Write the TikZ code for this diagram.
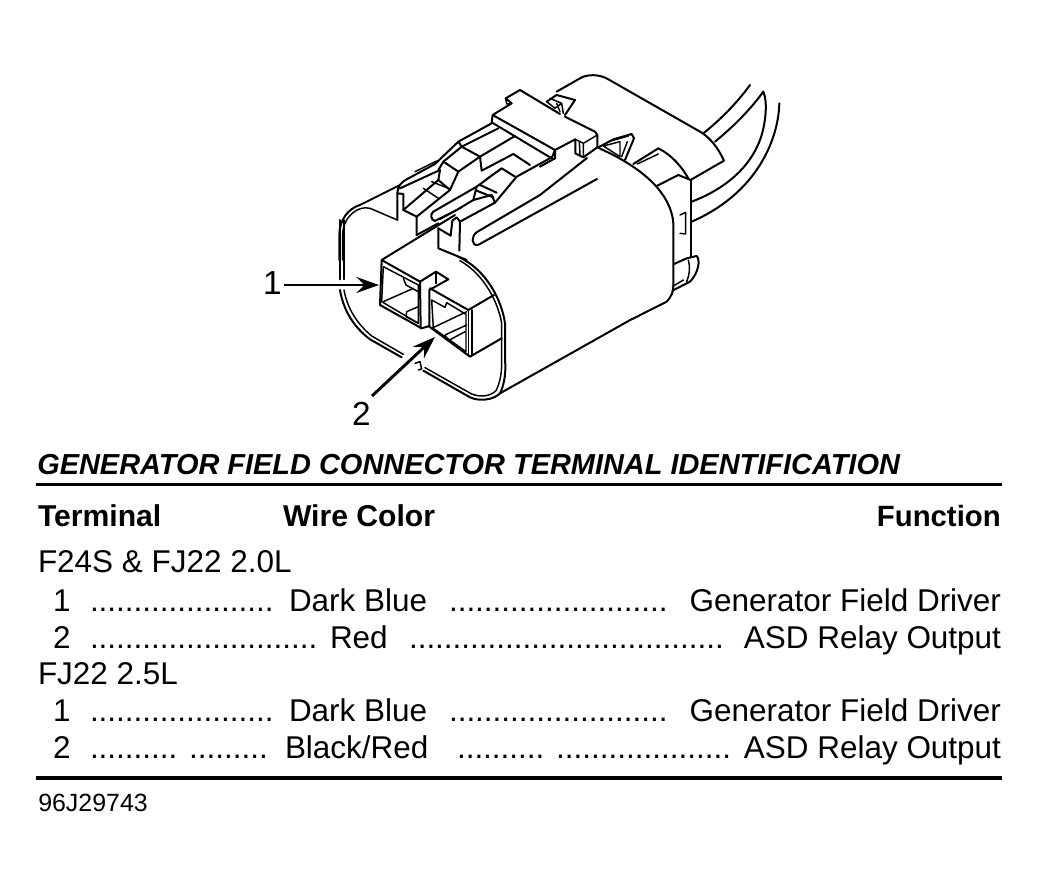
\documentclass[tikz,border=0pt]{standalone}
\usepackage{fontspec}
\setmainfont{Liberation Sans}
\usetikzlibrary{arrows.meta}
\tikzset{
 ln/.style={line width=1.5pt,line join=round,line cap=round},
 tn/.style={line width=1.1pt,line join=round,line cap=round},
 lab/.style={anchor=base west,inner sep=0pt,outer sep=0pt,font=\fontsize{23.6}{25}\selectfont},
 labr/.style={anchor=base east,inner sep=0pt,outer sep=0pt,font=\fontsize{23.6}{25}\selectfont},
 bd/.style={anchor=base west,inner sep=0pt,outer sep=0pt,font=\fontsize{22.6}{25}\selectfont\bfseries},
 big/.style={anchor=base west,inner sep=0pt,outer sep=0pt,font=\fontsize{25}{27}\selectfont},
 arr/.style={line width=2.2pt,-{Stealth[length=17pt,width=12pt,inset=6pt]}},
 zone/.style={x=0.25pt,y=-0.25pt}
}
\begin{document}
\begin{tikzpicture}[x=0.75pt,y=-0.75pt]
\useasboundingbox (0,0) rectangle (1039,887);
% ---- upper-left region (crop 1 coordinates)
\begin{scope}[zone,shift={(240pt,-45pt)}]
% body corner
\draw[ln] (240,375) -- (120,435) .. controls (85,445) and (58,480) .. (58,525) -- (58,600);
\draw[tn] (232,480) -- (150,445) .. controls (115,435) and (68,470) .. (68,525) -- (68,600);
% left latch
\draw[ln] (232,480) -- (232,400) .. controls (232,380) and (245,365) .. (260,358) -- (345,312) -- (415,245) -- (515,190);
\draw[tn] (285,335) -- (350,303);
\draw[ln] (240,385) -- (360,330) -- (355,360) -- (390,390) -- (415,335) -- (370,305) -- (355,330);
\draw[ln] (232,400) -- (250,402) -- (250,450) -- (290,470) -- (290,525);
\draw[ln] (250,450) -- (355,360);
\draw[ln] (290,470) -- (390,390);
\draw[tn] (310,385) -- (355,415) (335,365) -- (385,385);
% upper cross bars
\draw[ln] (370,305) -- (425,260) -- (480,290) -- (415,335);
\draw[ln] (415,245) -- (425,260) -- (535,205);
\draw[ln] (480,290) -- (585,228);
\draw[ln] (480,290) -- (485,332) -- (580,282) -- (630,315);
% lower latch
\draw[ln] (470,380) -- (340,455) .. controls (330,462) and (332,480) .. (345,483) -- (410,450) -- (460,420) -- (470,380);
\draw[ln] (470,380) -- (545,325) -- (585,350);
\draw[ln] (480,375) -- (530,398) (470,392) -- (520,412);
\draw[tn] (360,478) -- (425,442);
\draw[ln] (460,420) -- (515,405) -- (525,428);
\draw[ln] (525,428) -- (590,350) -- (695,292);
\draw[tn] (545,325) -- (495,360);
% connector top edge and post
\draw[ln] (185,600) -- (405,465);
\draw[ln] (355,505) -- (355,565) -- (440,600);
\draw[ln] (355,505) -- (392,527) -- (397,482) -- (410,472) -- (420,485) -- (418,572);
\draw[ln] (420,485) -- (525,428);
\draw[ln] (290,525) -- (355,490);
% block
\draw[ln] (518,165) -- (705,270) -- (695,295) -- (515,187) -- (518,165);
\draw[ln] (518,165) -- (575,130) -- (557,115) -- (600,90) -- (720,162);
\draw[tn] (557,115) -- (560,132) -- (575,130);
\end{scope}
% slot and rail
\coordinate (s1) at (587,158); \coordinate (s2) at (540,195); \coordinate (s3) at (477,232);
\coordinate (s4) at (478,245); \coordinate (s5) at (597,179);
\draw[ln] (s1) -- (s2) -- (s3) .. controls (471,236) and (471,246) .. (s4) -- (s5);
% ---- right region (crop 2 coordinates)
\begin{scope}[zone,shift={(405pt,-45pt)}]
% big rounded end
\draw[ln] (275,778) -- (380,725) .. controls (395,708) and (400,695) .. (400,680) -- (400,490) .. controls (395,420) and (340,345) .. (210,280) -- (172,262);
% boot
\draw[ln] (50,95) -- (120,55) .. controls (140,42) and (180,42) .. (205,58) -- (480,215) .. controls (510,232) and (535,265) .. (552,302) -- (455,358);
\draw[ln] (490,220) .. controls (540,180) and (590,130) .. (630,75);
\draw[ln] (525,245) .. controls (580,200) and (630,150) .. (670,95) .. controls (685,130) and (675,200) .. (660,240) .. controls (630,320) and (560,385) .. (455,425);
\draw[ln] (718,130) .. controls (715,240) and (650,400) .. (455,485);
% strap
\draw[ln] (452,360) -- (452,590);
\draw[ln] (350,378) -- (415,345) -- (452,360);
\draw[ln] (280,312) -- (355,265) .. controls (395,285) and (425,320) .. (445,355);
\draw[tn] (292,312) -- (355,282);
\draw[tn] (420,465) -- (437,457) -- (437,522) -- (420,520);
% lower tab
\draw[ln] (402,612) -- (440,595) -- (470,588) .. controls (482,600) and (475,640) .. (450,665) -- (397,692);
\draw[tn] (445,600) .. controls (450,620) and (450,640) .. (440,665) (397,680) -- (430,660);
% block right end
\draw[ln] (75,170) -- (165,215) -- (172,225) -- (172,262) -- (130,292) -- (106,280) -- (106,238) -- (45,270) -- (45,295) -- (0,320);
\draw[tn] (106,238) -- (130,250) -- (172,225) (130,250) -- (130,292);
\draw[tn] (118,245) -- (120,285);
% triangles
\draw[ln] (20,125) -- (50,105) -- (105,120) -- (75,165);
\draw[tn] (30,115) -- (65,130) -- (45,145) (65,130) -- (70,160) (50,130) -- (60,155) (20,125) -- (45,145);
\draw[ln] (175,262) -- (220,238) -- (275,222) -- (282,235) -- (255,300);
\draw[tn] (190,258) -- (240,245) -- (240,290) (262,245) -- (245,290) (190,258) -- (240,290);
\draw[tn] (205,245) -- (265,228);
\end{scope}
% ---- lower front (crop 3 coordinates)
\begin{scope}[zone,shift={(247.5pt,-165pt)}]
\draw[ln] (30,0) -- (30,178);
\draw[tn] (42,0) -- (42,178);
\draw[ln] (30,210) .. controls (40,270) and (70,320) .. (120,358) -- (215,412);
\draw[tn] (42,210) .. controls (52,265) and (80,310) .. (125,348) -- (220,403);
\draw[tn] (255,430) -- (270,425) -- (275,447) -- (265,450);
\draw[ln] (280,452) -- (420,532) .. controls (450,545) and (490,540) .. (510,520) .. controls (525,490) and (528,450) .. (525,420) -- (525,310) .. controls (515,240) and (470,150) .. (385,110);
\draw[tn] (285,443) -- (425,522) .. controls (450,532) and (480,530) .. (498,512) .. controls (512,485) and (516,450) .. (515,420) -- (515,310) .. controls (505,250) and (465,165) .. (390,122);
\draw[ln] (510,520) -- (906,297);
% housing 1
\draw[ln] (155,120) -- (150,255) -- (275,325) -- (298,318);
\draw[ln] (155,120) -- (270,185) -- (272,325);
\draw[tn] (160,140) -- (155,245) -- (265,310) -- (265,195) -- (160,140);
\draw[tn] (160,245) -- (250,205);
\draw[tn] (220,175) -- (228,195) -- (265,215);
\draw[tn] (230,275) -- (265,260) (230,275) -- (228,290) -- (265,310);
% key
\draw[ln] (270,185) -- (318,155) -- (355,178) -- (298,210) -- (298,320) -- (420,410) -- (515,355);
\draw[tn] (318,155) -- (318,190);
\draw[ln] (300,205) -- (415,270) -- (492,225);
\draw[ln] (425,270) -- (425,405);
\draw[tn] (415,270) -- (415,405);
% housing 2
\draw[tn] (305,240) -- (345,262) -- (350,248) -- (408,283) -- (408,395) -- (310,325) -- (305,240);
\draw[tn] (305,325) -- (410,275);
\draw[tn] (345,345) -- (410,315) (355,362) -- (405,335) (345,345) -- (355,362);
\end{scope}
% arrows
\coordinate (a1s) at (284,285); \coordinate (a1e) at (379,285);
\coordinate (a2s) at (372,396); \coordinate (a2e) at (435,337);
\draw[arr] (a1s) -- (a1e);
\draw[arr] (a2s) -- (a2e);
\node[big] (n1) at (263,295) {1};
\node[big] (n2) at (352,426) {2};
% table
\node[anchor=base west,inner sep=0pt,font=\fontsize{21.7}{24}\selectfont\bfseries\itshape] (h) at (37,475) {GENERATOR FIELD CONNECTOR TERMINAL IDENTIFICATION};
\draw[line width=2.6pt] (36,484.5) -- (1002,484.5);
\node[bd] (t1) at (38,527) {Terminal};
\node[bd] (t2) at (283,527) {Wire Color};
\node[anchor=base east,inner sep=0pt,font=\fontsize{22}{25}\selectfont\bfseries] (t3) at (1001,527) {Function};
\node[lab] (r0) at (38,573) {F24S \& FJ22 2.0L};
\node[lab] (a1) at (53,611) {1};
\node[lab] (a2) at (90,611) {.....................};
\node[lab] (a3) at (289,611) {Dark Blue};
\node[lab] (a4) at (449,611) {.........................};
\node[labr] (a5) at (1001,611) {Generator Field Driver};
\node[lab] (b1) at (53,648) {2};
\node[lab] (b2) at (90,648) {..........................};
\node[lab] (b3) at (330,648) {Red};
\node[lab] (b4) at (409,648) {....................................};
\node[labr] (b5) at (1001,648) {ASD Relay Output};
\node[lab] (r1) at (38,684) {FJ22 2.5L};
\node[lab] (c1) at (53,721) {1};
\node[lab] (c2) at (90,721) {.....................};
\node[lab] (c3) at (289,721) {Dark Blue};
\node[lab] (c4) at (449,721) {.........................};
\node[labr] (c5) at (1001,721) {Generator Field Driver};
\node[lab] (d1) at (53,758) {2};
\node[lab] (d2) at (90,758) {.......... .........};
\node[lab] (d3) at (285,758) {Black/Red};
\node[lab] (d4) at (457,758) {.......... ....................};
\node[labr] (d5) at (1001,758) {ASD Relay Output};
\draw[line width=2.6pt] (36,778) -- (1002,778);
\node[anchor=base west,inner sep=0pt,font=\fontsize{18.7}{20}\selectfont] (id) at (38,811) {96J29743};
\end{tikzpicture}
\end{document}
